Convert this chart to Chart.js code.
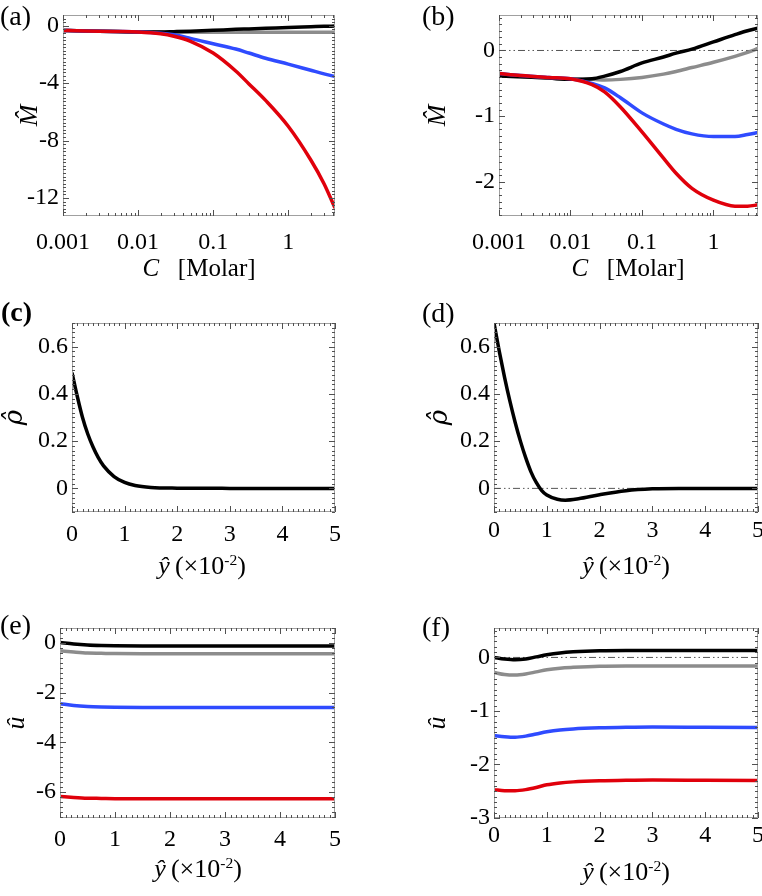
<!DOCTYPE html>
<html>
<head>
<meta charset="utf-8">
<script src="https://cdn.jsdelivr.net/npm/chart.js@4.4.0/dist/chart.umd.min.js"></script>
<style>
  body { margin: 0; background: #fff; font-family: 'Liberation Serif', serif; }
  #page { position: relative; width: 762px; height: 896px; overflow: hidden; }
  .panel { position: absolute; }
  .lab { position: absolute; font-size: 28px; line-height: 1; color: #000; }
  .xt { position: absolute; line-height: 1; white-space: nowrap; transform: translateX(-50%); color: #000; }
  .xc { font-size: 25px; }
  .xy { font-size: 26px; }
  .xt sup { font-size: 60%; vertical-align: 0.6em; line-height: 0; }
</style>
</head>
<body>
<div id="page">
  <canvas class="panel" id="pa" width="381" height="290" style="left:0;top:0"></canvas>
  <canvas class="panel" id="pb" width="381" height="290" style="left:381px;top:0"></canvas>
  <canvas class="panel" id="pc" width="381" height="300" style="left:0;top:290px"></canvas>
  <canvas class="panel" id="pd" width="381" height="300" style="left:381px;top:290px"></canvas>
  <canvas class="panel" id="pe" width="381" height="306" style="left:0;top:590px"></canvas>
  <canvas class="panel" id="pf" width="381" height="306" style="left:381px;top:590px"></canvas>

  <div class="lab" style="left:0;top:2px">(a)</div>
  <div class="lab" style="left:422px;top:2px">(b)</div>
  <div class="lab" style="left:1px;top:298px;font-weight:bold">(c)</div>
  <div class="lab" style="left:422px;top:299px">(d)</div>
  <div class="lab" style="left:0;top:611px">(e)</div>
  <div class="lab" style="left:422px;top:613px">(f)</div>

  <div class="xt xc" style="left:199px;top:255px"><i>C</i>&nbsp;&nbsp; [Molar]</div>
  <div class="xt xc" style="left:628px;top:255px"><i>C</i>&nbsp;&nbsp; [Molar]</div>
  <div class="xt xy" style="left:202px;top:553px"><i>ŷ</i>&#8201;(×10<sup>-2</sup>)</div>
  <div class="xt xy" style="left:626px;top:553px"><i>ŷ</i>&#8201;(×10<sup>-2</sup>)</div>
  <div class="xt xy" style="left:198px;top:856px"><i>ŷ</i>&#8201;(×10<sup>-2</sup>)</div>
  <div class="xt xy" style="left:626px;top:859px"><i>ŷ</i>&#8201;(×10<sup>-2</sup>)</div>
</div>

<script>
// ---- data ----

// (a), (b): M-hat vs concentration C [Molar]
const conc = [0.001, 0.002, 0.005, 0.01, 0.02, 0.03, 0.05, 0.1, 0.2, 0.3, 0.5, 1, 2, 3, 4.2];
const aBlack = [-0.33, -0.36, -0.40, -0.43, -0.43, -0.41, -0.38, -0.32, -0.25, -0.22, -0.18, -0.12, -0.07, -0.04, -0.02];
const aGray  = [-0.33, -0.36, -0.40, -0.43, -0.44, -0.45, -0.45, -0.45, -0.45, -0.45, -0.46, -0.46, -0.46, -0.46, -0.46];
const aBlue  = [-0.33, -0.36, -0.40, -0.43, -0.52, -0.63, -0.88, -1.25, -1.62, -1.90, -2.26, -2.67, -3.10, -3.35, -3.53];
const aRed   = [-0.33, -0.36, -0.40, -0.43, -0.56, -0.73, -1.08, -1.90, -3.15, -4.05, -5.20, -7.00, -9.35, -11.0, -12.7];

const bBlack = [-0.39, -0.40, -0.42, -0.44, -0.43, -0.39, -0.32, -0.19, -0.10, -0.04, 0.02, 0.13, 0.24, 0.30, 0.34];
const bGray  = [-0.39, -0.40, -0.42, -0.44, -0.44, -0.45, -0.44, -0.41, -0.36, -0.32, -0.26, -0.18, -0.09, -0.03, 0.03];
const bBlue  = [-0.35, -0.38, -0.41, -0.43, -0.50, -0.57, -0.72, -0.95, -1.12, -1.20, -1.27, -1.31, -1.31, -1.28, -1.25];
const bRed   = [-0.35, -0.38, -0.41, -0.43, -0.52, -0.63, -0.86, -1.24, -1.64, -1.87, -2.10, -2.28, -2.37, -2.37, -2.35];

// (c), (d): rho-hat vs y-hat (x10^-2)
const yc = [0, 0.1, 0.2, 0.3, 0.4, 0.5, 0.6, 0.8, 1.0, 1.2, 1.5, 2, 3, 4, 5];
const cRho = [0.49, 0.39, 0.30, 0.23, 0.175, 0.13, 0.095, 0.05, 0.025, 0.012, 0.004, 0.001, 0, 0, 0];

const yd = [0, 0.1, 0.2, 0.3, 0.4, 0.5, 0.6, 0.7, 0.8, 0.9, 1.0, 1.2, 1.35, 1.6, 2.0, 2.5, 3, 3.5, 4, 5];
const dRho = [0.70, 0.58, 0.47, 0.37, 0.28, 0.20, 0.13, 0.07, 0.025, -0.008, -0.028, -0.046, -0.05, -0.044, -0.027, -0.01, -0.002, 0, 0, 0];

// (e), (f): u-hat vs y-hat (x10^-2)
const ye = [0, 0.25, 0.5, 0.75, 1, 1.5, 2, 3, 4, 5];
const eBlack = [0.02, -0.04, -0.08, -0.10, -0.11, -0.12, -0.12, -0.12, -0.12, -0.12];
const eGray  = [-0.32, -0.37, -0.41, -0.42, -0.43, -0.44, -0.44, -0.44, -0.44, -0.44];
const eBlue  = [-2.45, -2.52, -2.56, -2.58, -2.59, -2.60, -2.60, -2.60, -2.60, -2.60];
const eRed   = [-6.18, -6.22, -6.25, -6.26, -6.27, -6.27, -6.27, -6.27, -6.27, -6.27];

const yf = [0, 0.2, 0.4, 0.6, 0.8, 1.0, 1.25, 1.5, 2, 2.5, 3, 4, 5];
const fBlack = [0, -0.03, -0.045, -0.03, 0.01, 0.05, 0.085, 0.105, 0.125, 0.13, 0.13, 0.13, 0.13];
const fGray  = [-0.28, -0.32, -0.33, -0.31, -0.27, -0.23, -0.20, -0.185, -0.165, -0.16, -0.16, -0.16, -0.16];
const fBlue  = [-1.46, -1.48, -1.49, -1.47, -1.43, -1.39, -1.355, -1.335, -1.315, -1.305, -1.30, -1.305, -1.31];
const fRed   = [-2.47, -2.49, -2.49, -2.47, -2.43, -2.38, -2.345, -2.325, -2.305, -2.295, -2.29, -2.295, -2.30];

// tick labels
const concTicks = [0.001, 0.01, 0.1, 1];
const yhatTicks = [0, 1, 2, 3, 4, 5];
const aTicks = [0, -4, -8, -12];
const bTicks = [0, -1, -2];
const rhoTicks = [0, 0.2, 0.4, 0.6];
const eTicks = [0, -2, -4, -6];
const fTicks = [0, -1, -2, -3];

const BLACK = '#000000', GRAY = '#8c8c8c', BLUE = '#2f4bff', RED = '#e0000b';

Chart.defaults.font.family = "'Liberation Serif', serif";
Chart.defaults.color = '#000';

function pts(xs, ys) {
  return xs.map((x, i) => ({ x: x, y: ys[i] }));
}

function curve(xs, ys, color) {
  return {
    data: pts(xs, ys),
    borderColor: color,
    borderWidth: 3.5,
    pointRadius: 0,
    fill: false,
    cubicInterpolationMode: 'monotone'
  };
}

function zeroLine(x0, x1) {
  return {
    data: [{ x: x0, y: 0 }, { x: x1, y: 0 }],
    borderColor: '#555',
    borderWidth: 1,
    borderDash: [7, 3, 1.5, 3, 1.5, 3],
    pointRadius: 0,
    order: 1
  };
}

function steps(a, b, s) {
  const out = [];
  for (let v = a; v <= b + 1e-9; v += s) out.push(+v.toFixed(6));
  return out;
}

function logMinor(max) {
  const out = [];
  [0.001, 0.01, 0.1, 1].forEach(d => {
    for (let k = 2; k <= 9; k++) if (k * d <= max) out.push(k * d);
  });
  return out;
}

// box frame with inward ticks on all four sides
const framePlugin = {
  id: 'frame',
  afterDatasetsDraw(chart, args, o) {
    const { ctx, chartArea: a, scales: { x, y } } = chart;
    ctx.save();
    ctx.strokeStyle = '#a0a0a0';
    ctx.lineWidth = 1;
    ctx.strokeRect(a.left + 0.5, a.top + 0.5, a.width - 1, a.height - 1);
    ctx.strokeStyle = '#505050';
    ctx.beginPath();
    const xt = (v, len) => {
      const p = Math.round(x.getPixelForValue(v)) + 0.5;
      if (p < a.left - 1 || p > a.right + 1) return;
      ctx.moveTo(p, a.bottom); ctx.lineTo(p, a.bottom - len);
      ctx.moveTo(p, a.top); ctx.lineTo(p, a.top + len);
    };
    const yt = (v, len) => {
      const p = Math.round(y.getPixelForValue(v)) + 0.5;
      if (p < a.top - 1 || p > a.bottom + 1) return;
      ctx.moveTo(a.left, p); ctx.lineTo(a.left + len, p);
      ctx.moveTo(a.right, p); ctx.lineTo(a.right - len, p);
    };
    o.xMinor.forEach(v => xt(v, 3));
    o.yMinor.forEach(v => yt(v, 3));
    o.xMajor.forEach(v => xt(v, 6));
    o.yMajor.forEach(v => yt(v, 6));
    ctx.stroke();
    ctx.restore();
  }
};

function makeChart(id, p) {
  return new Chart(document.getElementById(id), {
    type: 'line',
    data: { datasets: p.datasets },
    options: {
      responsive: false,
      animation: false,
      layout: { padding: { top: p.top, right: p.right, left: 0, bottom: 0 } },
      plugins: {
        legend: { display: false },
        tooltip: { enabled: false },
        frame: { xMajor: p.xTicks, xMinor: p.xMinor, yMajor: p.yTicks, yMinor: p.yMinor }
      },
      scales: {
        x: {
          type: p.xType,
          min: p.xMin,
          max: p.xMax,
          grid: { display: false, drawTicks: false },
          border: { display: false },
          ticks: { font: { size: 24 }, padding: p.xPad, maxRotation: 0, autoSkip: false,
                   callback: v => String(v) },
          afterBuildTicks: s => { s.ticks = p.xTicks.map(v => ({ value: v })); },
          afterFit: s => { s.height = p.xH; s.paddingLeft = 0; s.paddingRight = 0; }
        },
        y: {
          min: p.yMin,
          max: p.yMax,
          grid: { display: false, drawTicks: false },
          border: { display: false },
          ticks: { font: { size: 24 }, padding: 4, autoSkip: false, callback: v => String(v) },
          title: { display: true, text: p.yTitle,
                   font: { size: 26, style: 'italic', family: p.tFont || "'Liberation Serif', serif" },
                   padding: { top: p.tPad, bottom: 0 } },
          afterBuildTicks: s => { s.ticks = p.yTicks.map(v => ({ value: v })); },
          afterFit: s => { s.width = p.yW; s.paddingTop = 0; s.paddingBottom = 0; }
        }
      }
    },
    plugins: [framePlugin]
  });
}

const RHO_FONT = "'DejaVu Serif', serif";

// (a)
makeChart('pa', {
  datasets: [curve(conc, aRed, RED), curve(conc, aBlue, BLUE), curve(conc, aBlack, BLACK), curve(conc, aGray, GRAY)],
  xType: 'logarithmic', xMin: 0.001, xMax: 4.2, xTicks: concTicks, xMinor: logMinor(4.2),
  yMin: -13.25, yMax: 0.75, yTicks: aTicks, yMinor: steps(-13, 0.5, 0.25),
  yTitle: 'M\u0302', top: 15, right: 46, yW: 63, xH: 74, xPad: 12, tPad: 15
});

// (b)
makeChart('pb', {
  datasets: [curve(conc, bRed, RED), curve(conc, bBlue, BLUE), curve(conc, bBlack, BLACK), curve(conc, bGray, GRAY), zeroLine(0.001, 4.2)],
  xType: 'logarithmic', xMin: 0.001, xMax: 4.2, xTicks: concTicks, xMinor: logMinor(4.2),
  yMin: -2.52, yMax: 0.54, yTicks: bTicks, yMinor: steps(-2.5, 0.5, 0.1),
  yTitle: 'M\u0302', top: 15, right: 4, yW: 118, xH: 74, xPad: 12, tPad: 42
});

// (c)
makeChart('pc', {
  datasets: [curve(yc, cRho, BLACK)],
  xType: 'linear', xMin: 0, xMax: 5, xTicks: yhatTicks, xMinor: steps(0, 5, 0.1),
  yMin: -0.1, yMax: 0.7, yTicks: rhoTicks, yMinor: steps(-0.1, 0.7, 0.02),
  yTitle: '\u03C1\u0302', tFont: RHO_FONT, top: 33, right: 46, yW: 72, xH: 78, xPad: 8, tPad: 0
});

// (d)
makeChart('pd', {
  datasets: [curve(yd, dRho, BLACK), zeroLine(0, 5)],
  xType: 'linear', xMin: 0, xMax: 5, xTicks: yhatTicks, xMinor: steps(0, 5, 0.1),
  yMin: -0.1, yMax: 0.7, yTicks: rhoTicks, yMinor: steps(-0.1, 0.7, 0.02),
  yTitle: '\u03C1\u0302', tFont: RHO_FONT, top: 33, right: 4, yW: 113, xH: 78, xPad: 4, tPad: 44
});

// (e)
makeChart('pe', {
  datasets: [curve(ye, eRed, RED), curve(ye, eBlue, BLUE), curve(ye, eBlack, BLACK), curve(ye, eGray, GRAY)],
  xType: 'linear', xMin: 0, xMax: 5, xTicks: yhatTicks, xMinor: steps(0, 5, 0.1),
  yMin: -7.05, yMax: 0.6, yTicks: eTicks, yMinor: steps(-7, 0.6, 0.2),
  yTitle: '\u00FB', top: 38, right: 46, yW: 60, xH: 78, xPad: 7, tPad: 2
});

// (f)
makeChart('pf', {
  datasets: [curve(yf, fRed, RED), curve(yf, fBlue, BLUE), curve(yf, fBlack, BLACK), curve(yf, fGray, GRAY), zeroLine(0, 5)],
  xType: 'linear', xMin: 0, xMax: 5, xTicks: yhatTicks, xMinor: steps(0, 5, 0.1),
  yMin: -3, yMax: 0.55, yTicks: fTicks, yMinor: steps(-3, 0.5, 0.1),
  yTitle: '\u00FB', top: 38, right: 4, yW: 113, xH: 78, xPad: 3, tPad: 42
});
</script>
</body>
</html>
